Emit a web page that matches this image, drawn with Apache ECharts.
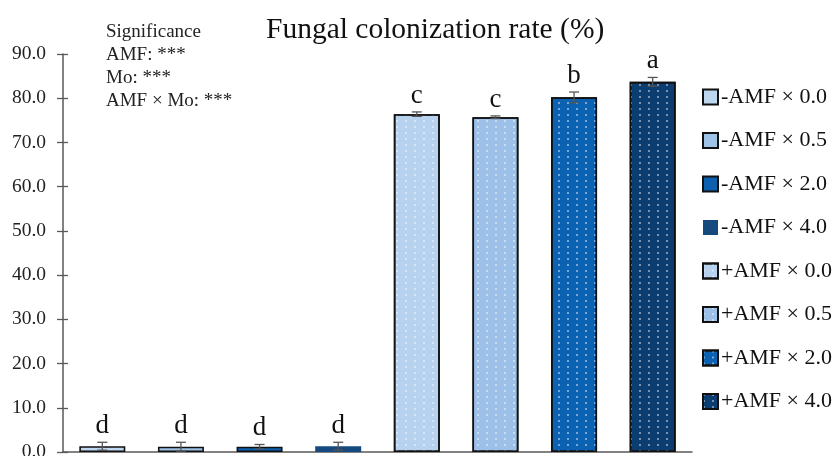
<!DOCTYPE html>
<html>
<head>
<meta charset="utf-8">
<script src="https://cdn.jsdelivr.net/npm/echarts@6/dist/echarts.min.js"></script>
<style>html,body{margin:0;padding:0;background:#fff}#c{width:838px;height:456px}</style>
</head>
<body>
<div id="c"></div>
<script>
var categories = ['-AMF × 0.0','-AMF × 0.5','-AMF × 2.0','-AMF × 4.0','+AMF × 0.0','+AMF × 0.5','+AMF × 2.0','+AMF × 4.0'];
var values = [1.3, 1.2, 1.2, 1.3, 76.4, 75.7, 80.2, 83.7];
var errors = [0.9, 1.0, 0.5, 0.9, 0.5, 0.3, 1.2, 1.0];
var letters = ['d','d','d','d','c','c','b','a'];
var yTicks = [0,10,20,30,40,50,60,70,80,90];
var significance = ['Significance','AMF: ***','Mo: ***','AMF × Mo: ***'];
var titleText = 'Fungal colonization rate (%)';

var colors = ['#bdd7ee','#9dc3e6','#0d60ae','#164a7e','#b6d2ee','#9cc0e7','#0b62b2','#0b3d71'];
var borders = [true,true,true,false,true,true,true,true];
var dotted = [false,false,false,false,true,true,true,true];
var FONT = '"Liberation Serif","Times New Roman",serif';

var series = categories.map(function(name, i){
  var d = categories.map(function(_, j){ return j === i ? values[j] : null; });
  var style = {color: colors[i], borderColor: borders[i] ? '#111' : colors[i], borderWidth: borders[i] ? 1.6 : 0};
  if (dotted[i]) {
    style.decal = {symbol:'circle', symbolSize:1, dashArrayX:[1.8,6.5], dashArrayY:[1.8,4], color:'rgba(255,255,255,0.6)'};
  }
  return {type:'bar', name:name, data:d, barWidth:46, barGap:'-100%', itemStyle:style, emphasis:{disabled:true}, z:2};
});

series.push({
  type:'custom', name:'err', z:5, silent:true,
  data: values.map(function(v,i){ return [i, v, errors[i], letters[i]]; }),
  renderItem: function(params, api){
    var i = api.value(0), v = api.value(1), e = api.value(2);
    var top = api.coord([i, v + e]), bot = api.coord([i, Math.max(v - e, 0)]);
    var x = top[0], hw = 5;
    var st = {stroke:'#555', lineWidth:1.3};
    return {type:'group', children:[
      {type:'line', shape:{x1:x,y1:top[1],x2:x,y2:bot[1]}, style:st},
      {type:'line', shape:{x1:x-hw,y1:top[1],x2:x+hw,y2:top[1]}, style:st},
      {type:'line', shape:{x1:x-hw,y1:bot[1],x2:x+hw,y2:bot[1]}, style:st},
      {type:'text', x:x, y:top[1]-3, style:{text:letters[i], fill:'#111', font:'27px '+FONT, align:'center', verticalAlign:'bottom'}}
    ]};
  }
});

var chart = echarts.init(document.getElementById('c'), null, {renderer:'canvas'});
chart.setOption({
  animation:false,
  backgroundColor:'#fff',
  title:{text:titleText, left:261, top:10, textStyle:{fontFamily:FONT, fontSize:29.5, fontWeight:'normal', color:'#111'}},
  grid:{left:63, right:146, top:54, bottom:4, containLabel:false, outerBoundsMode:'none'},
  legend:{
    orient:'vertical', left:697, top:81, itemWidth:15, itemHeight:15, itemGap:21.5, icon:'rect',
    data:categories, selectedMode:false,
    textStyle:{fontFamily:FONT, fontSize:22, color:'#111', padding:[0,0,0,-2]}
  },
  graphic: significance.map(function(t,k){
    return {type:'text', left:106, top:23 + k*22.7, style:{text:t, font:'19px '+FONT, fill:'#222'}};
  }),
  xAxis:{type:'category', data:categories, axisLabel:{show:false}, axisTick:{show:false},
    axisLine:{lineStyle:{color:'#595959', width:1.5}}},
  yAxis:[
    {type:'value', min:0, max:90, interval:10, splitLine:{show:false},
      axisLine:{show:true, lineStyle:{color:'#595959', width:1.5}},
      axisTick:{show:true, length:6, lineStyle:{color:'#595959', width:1.3}},
      axisLabel:{margin:17, fontFamily:FONT, fontSize:19.5, color:'#222', formatter:function(v){ return yTicks.indexOf(v) >= 0 ? v.toFixed(1) : ''; }}},
    {type:'value', min:0, max:90, interval:10, position:'left', splitLine:{show:false},
      axisLine:{show:false}, axisLabel:{show:false},
      axisTick:{show:true, inside:true, length:5, lineStyle:{color:'#595959', width:1.3}}}
  ],
  series: series
});
</script>
</body>
</html>
